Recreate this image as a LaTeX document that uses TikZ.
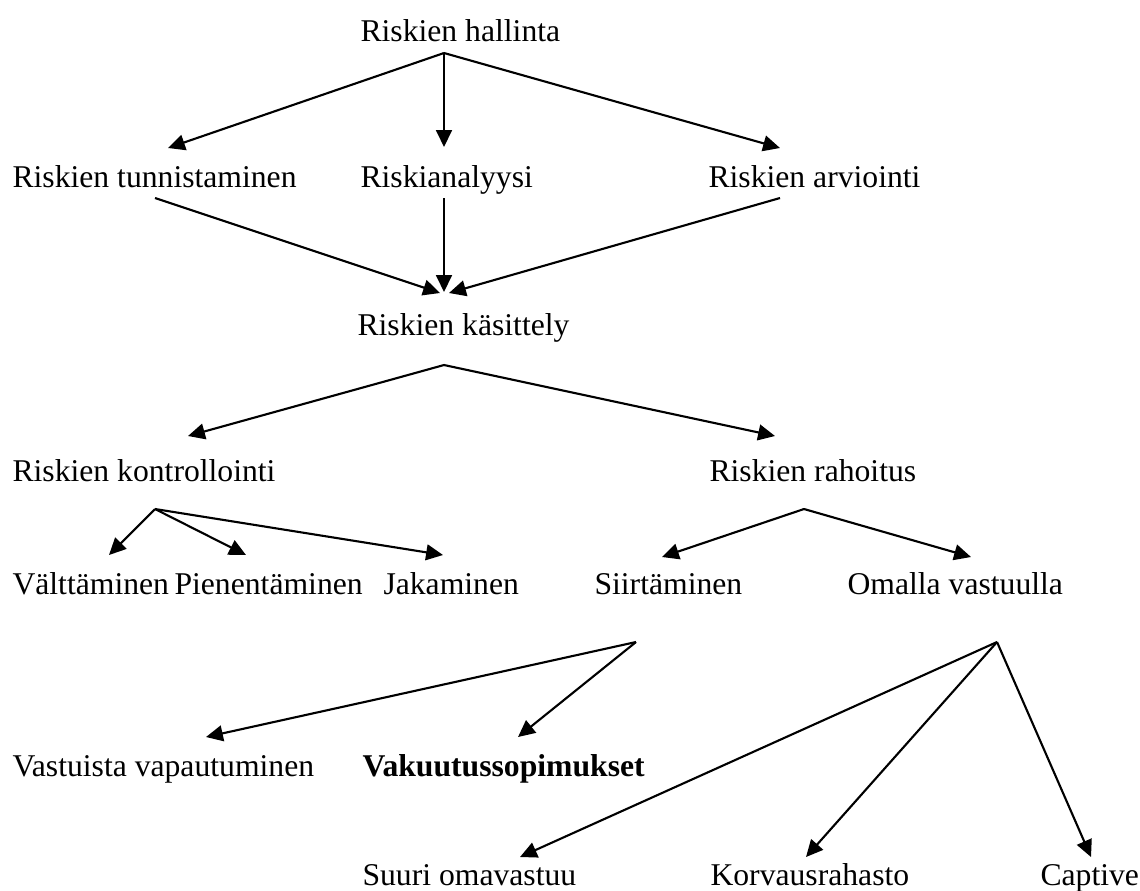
\documentclass[tikz,border=0pt]{standalone}
\usepackage{fontspec}
\setmainfont{Liberation Serif}
\usetikzlibrary{arrows.meta}

\tikzset{
  lbl/.style={anchor=base west,inner sep=0pt,font=\fontsize{12}{14}\selectfont},
  arr/.style={-{Triangle[length=6.4pt,width=6pt]},line width=0.8pt}
}

\begin{document}
\begin{tikzpicture}[x=0.379pt,y=-0.379pt]
      \useasboundingbox (0,0) rectangle (1140,890);
      \draw
        (360,41) node[lbl] (hallinta){Riskien hallinta}
        (12,187) node[lbl] (tunnistaminen){Riskien tunnistaminen}
        (360,187) node[lbl] (analyysi){Riskianalyysi}
        (708,187) node[lbl] (arviointi){Riskien arviointi}
        (357,335) node[lbl] (kasittely){Riskien käsittely}
        (12,481) node[lbl] (kontrollointi){Riskien kontrollointi}
        (709,481) node[lbl] (rahoitus){Riskien rahoitus}
        (12,594) node[lbl] (valttaminen){Välttäminen}
        (174,594) node[lbl] (pienentaminen){Pienentäminen}
        (383,594) node[lbl] (jakaminen){Jakaminen}
        (594,594) node[lbl] (siirtaminen){Siirtäminen}
        (847,594) node[lbl] (omalla){Omalla vastuulla}
        (12,776) node[lbl] (vastuista){Vastuista vapautuminen}
        (362,776) node[lbl,font=\fontsize{12}{14}\selectfont\bfseries] (vakuutus){Vakuutussopimukset}
        (362,885) node[lbl] (suuri){Suuri omavastuu}
        (710,885) node[lbl] (korvaus){Korvausrahasto}
        (1040,885) node[lbl] (captive){Captive};
      % branch points and arrow ends
      \path
        (444,53) coordinate (h0)
        (168,148) coordinate (h1)
        (444,147) coordinate (h2)
        (780,148) coordinate (h3)
        (155,198) coordinate (t0)
        (444,198) coordinate (a0)
        (780,198) coordinate (r0)
        (440,293) coordinate (k1)
        (444,292) coordinate (k2)
        (449,293) coordinate (k3)
        (444,365) coordinate (k0)
        (188,436) coordinate (c1)
        (775,436) coordinate (c2)
        (155,509) coordinate (o0)
        (109,555) coordinate (o1)
        (246,555) coordinate (o2)
        (443,555) coordinate (o3)
        (804,509) coordinate (f0)
        (662,557) coordinate (f1)
        (971,557) coordinate (f2)
        (636,642) coordinate (s0)
        (206,737) coordinate (s1)
        (518,737) coordinate (s2)
        (997,642) coordinate (m0)
        (520,857) coordinate (m1)
        (806,857) coordinate (m2)
        (1091,857) coordinate (m3);
      \begin{scope}[arr]
        \draw (h0) to (h1);
        \draw (h0) to (h2);
        \draw (h0) to (h3);
        \draw (t0) to (k1);
        \draw (a0) to (k2);
        \draw (r0) to (k3);
        \draw (k0) to (c1);
        \draw (k0) to (c2);
        \draw (o0) to (o1);
        \draw (o0) to (o2);
        \draw (o0) to (o3);
        \draw (f0) to (f1);
        \draw (f0) to (f2);
        \draw (s0) to (s1);
        \draw (s0) to (s2);
        \draw (m0) to (m1);
        \draw (m0) to (m2);
        \draw (m0) to (m3);
      \end{scope}
    \end{tikzpicture}
\end{document}
